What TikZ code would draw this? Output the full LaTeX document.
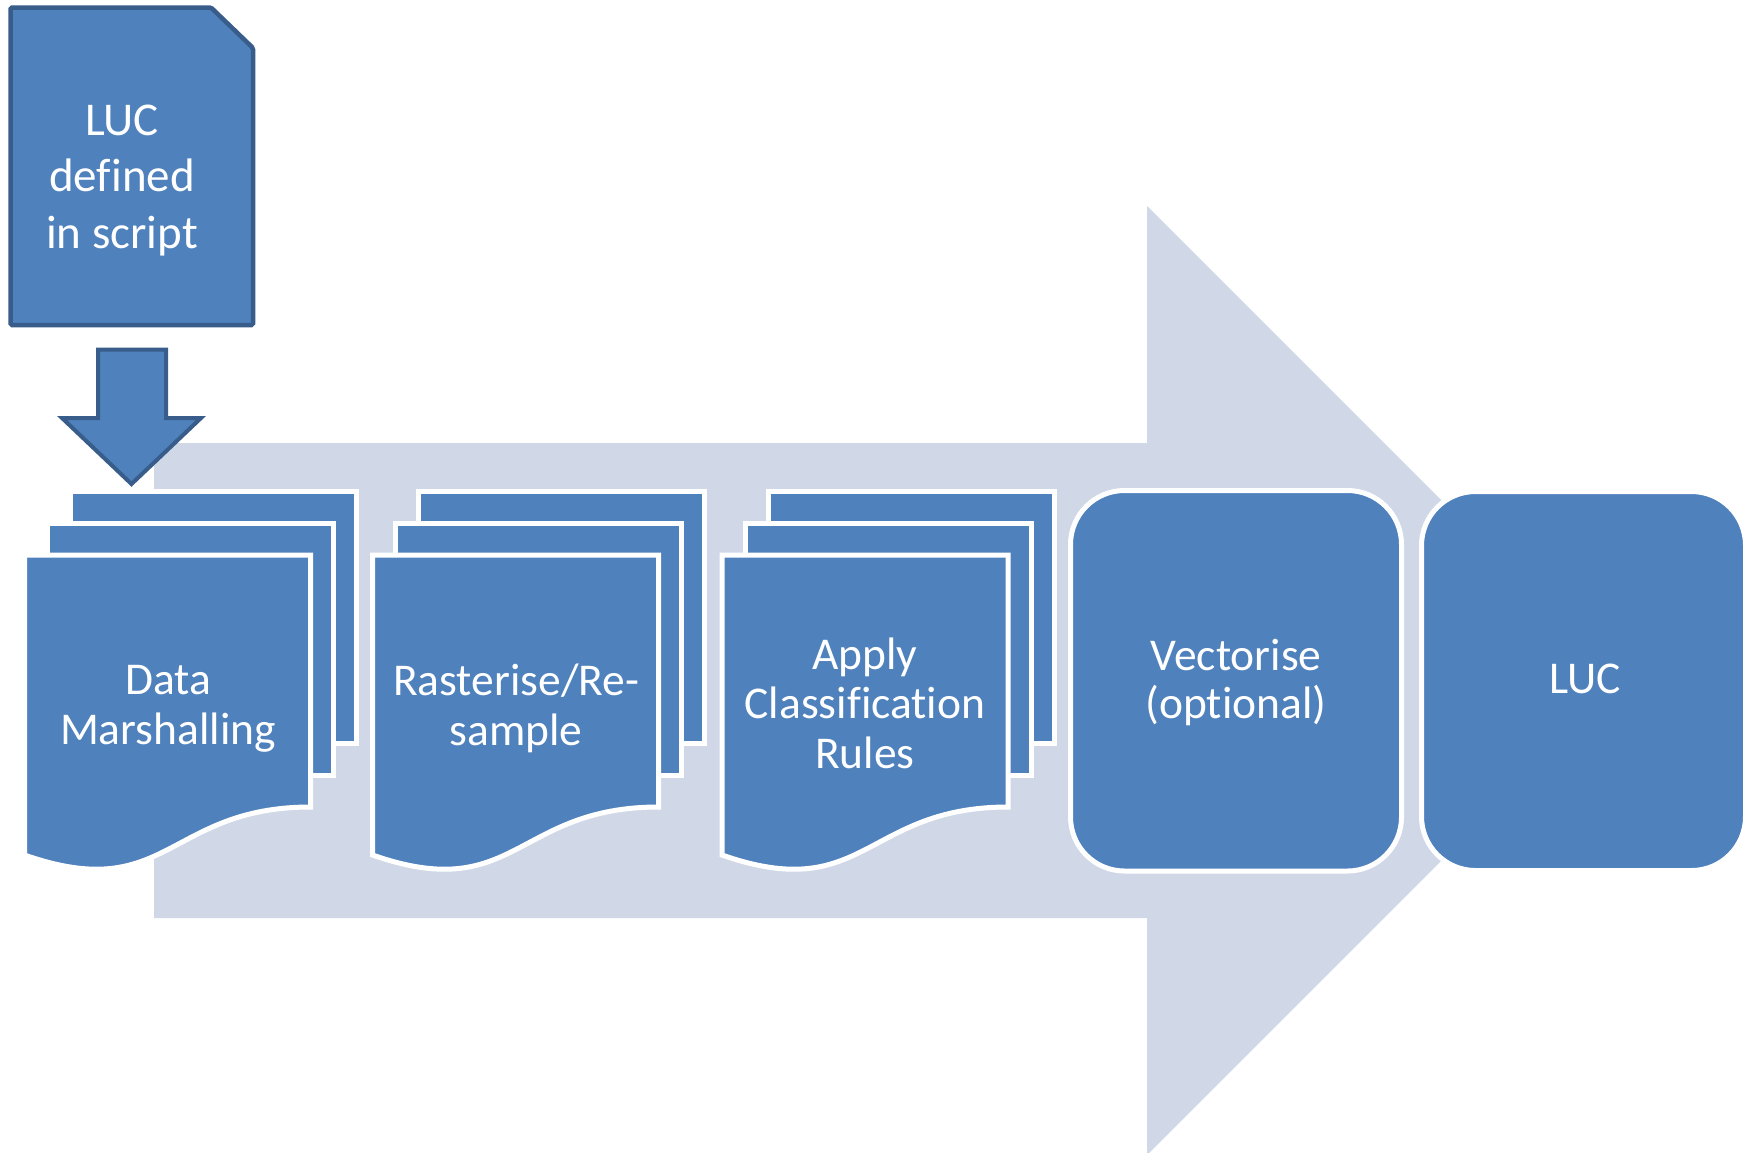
\documentclass[tikz,border=0pt]{standalone}
\usepackage{fontspec}
\setmainfont{Carlito}[Ligatures=NoCommon]
\definecolor{boxblue}{HTML}{4F81BD}
\definecolor{darkblue}{HTML}{385D8A}
\definecolor{arrowgray}{HTML}{D0D8E8}
\begin{document}
\begin{tikzpicture}[x=1pt,y=-1pt,
  page/.style={fill=boxblue, draw=white, line width=5pt, line join=miter},
  rbox/.style={fill=boxblue, draw=white, line width=5pt, rounded corners=54pt},
  darkshape/.style={fill=boxblue, draw=darkblue, line width=4.5pt},
  lbl/.style={text=white, anchor=base, inner sep=0pt, font=\fontsize{45.5}{50}\selectfont},
]
\fill[white] (0,0) rectangle (1760,1152);
\useasboundingbox (0,0) rectangle (1760,1152);
\begin{scope}
\clip (0,0) rectangle (1760,1152);
% big background arrow
\fill[arrowgray] (154,443) -- (1147,443) -- (1147,206) -- (1621.5,680.5) -- (1147,1155) -- (1147,918) -- (154,918) -- cycle;
\end{scope}
% down arrow
\draw[darkshape, line width=4pt] (98,349.5) -- (166,349.5) -- (166,418) -- (201,418) -- (131.5,484) -- (62,418) -- (98,418) -- cycle;
% LUC defined in script (document with cut corner)
\draw[darkshape, rounded corners=1.5pt] (10.5,7.5) -- (211,7.5) -- (253,48) -- (253,325) -- (10.5,325) -- cycle;
\node[lbl, font=\fontsize{47}{56.5}\selectfont] (lucdef) at (122,135) {\begin{tabular}[t]{@{}c@{}}LUC\\defined\\in script\end{tabular}};
% stack 1
\begin{scope}[shift={(24.5,0)}]
\draw[page] (46,491) rectangle (332,743);
\draw[page] (23,523) rectangle (309,775);
\draw[page] (0,555) -- (286,555) -- (286,807) .. controls (143,807) and (143,905) .. (0,855) -- cycle;
\end{scope}
\node[lbl] (data) at (168,694) {\begin{tabular}[t]{@{}c@{}}Data\\Marshalling\end{tabular}};
% stack 2
\begin{scope}[shift={(372.5,0)}]
\draw[page] (46,491) rectangle (332,743);
\draw[page] (23,523) rectangle (309,775);
\draw[page] (0,555) -- (286,555) -- (286,807) .. controls (143,807) and (143,905) .. (0,855) -- cycle;
\end{scope}
\node[lbl] (raster) at (516,695) {\begin{tabular}[t]{@{}c@{}}Rasterise/Re-\\sample\end{tabular}};
% stack 3
\begin{scope}[shift={(722,0)}]
\draw[page] (46,491) rectangle (332,743);
\draw[page] (23,523) rectangle (309,775);
\draw[page] (0,555) -- (286,555) -- (286,807) .. controls (143,807) and (143,905) .. (0,855) -- cycle;
\end{scope}
\node[lbl, font=\fontsize{45.5}{49.5}\selectfont] (apply) at (865,669) {\begin{tabular}[t]{@{}c@{}}Apply\\Classification\\Rules\end{tabular}};
% rounded boxes
\draw[rbox] (1070.5,490.5) rectangle (1401.5,871);
\node[lbl, font=\fontsize{45.5}{48}\selectfont] (vect) at (1236,670) {\begin{tabular}[t]{@{}c@{}}Vectorise\\(optional)\end{tabular}};
\draw[rbox] (1421.5,491.5) rectangle (1745.5,870.5);
\node[lbl] (luc) at (1585,693) {LUC};
\end{tikzpicture}
\end{document}
